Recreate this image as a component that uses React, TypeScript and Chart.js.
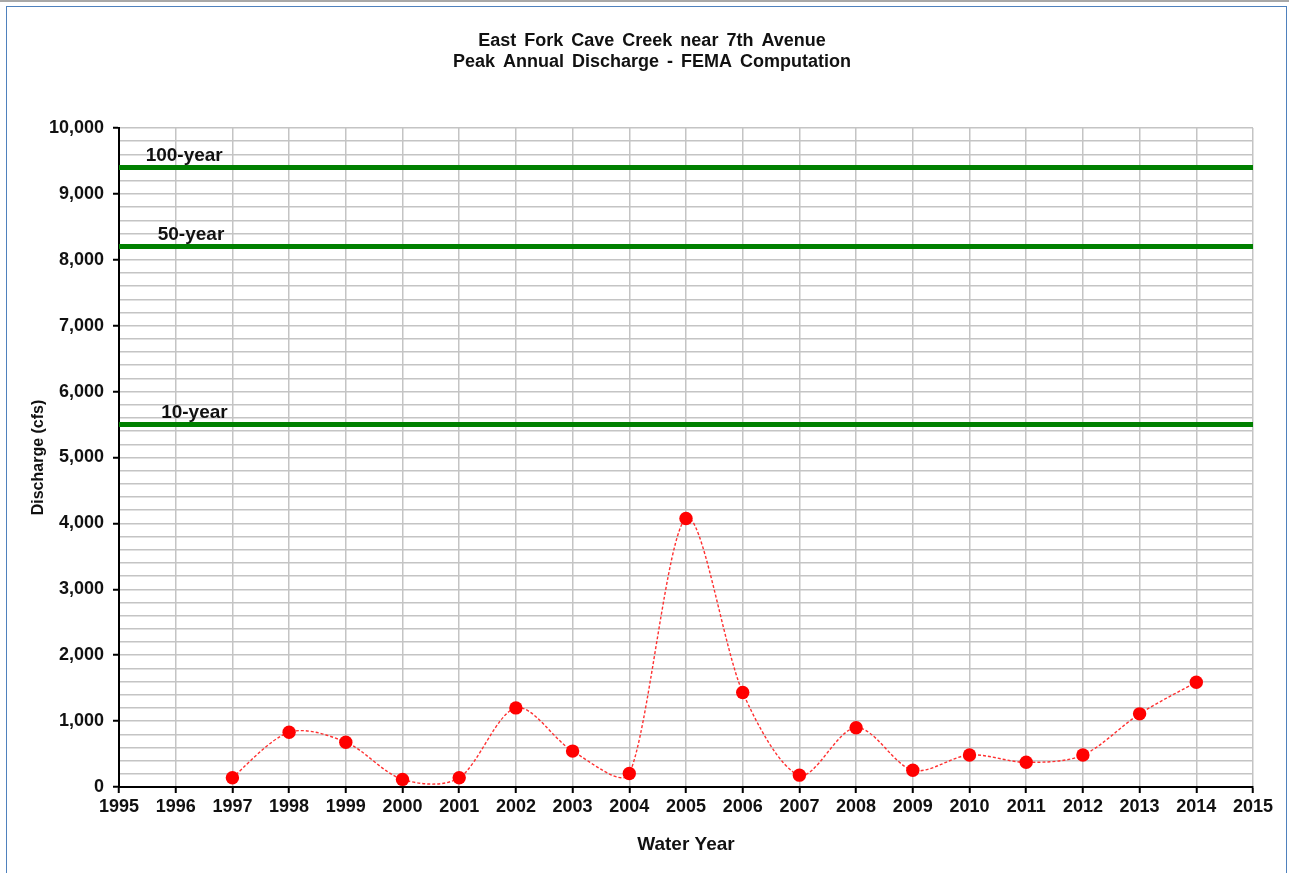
import React, { useEffect, useRef } from "react";
import { Chart, registerables } from "chart.js";

Chart.register(...registerables);

const titleLines = ["East Fork Cave Creek near 7th Avenue", "Peak Annual Discharge - FEMA Computation"];
const years = [1997, 1998, 1999, 2000, 2001, 2002, 2003, 2004, 2005, 2006, 2007, 2008, 2009, 2010, 2011, 2012, 2013, 2014];
const discharge = [140, 830, 680, 115, 140, 1200, 545, 205, 4075, 1435, 180, 900, 255, 485, 375, 485, 1110, 1590];
const returnLabels = ["100-year", "50-year", "10-year"];
const returnFlows = [9400, 8200, 5500];
const returnLabelYears = [1996.15, 1996.27, 1996.33];
const xRange = [1995, 2015];
const yRange = [0, 10000];
const xAxisTitle = "Water Year";
const yAxisTitle = "Discharge (cfs)";

const FONT = "Arial, 'Liberation Sans', sans-serif";

// Excel-like smoothing of the discharge series (Catmull-Rom tangent, damped on short sides)
const smoothPlugin = {
  id: "excelSmooth",
  beforeDatasetDraw(chart: any, args: any) {
    if (args.index !== 0) return;
    const line = args.meta.dataset;
    if (line && line.updateControlPoints) line.updateControlPoints(chart.chartArea, "x");
    const pts = args.meta.data;
    for (let i = 0; i < pts.length; i++) {
      const p = pts[i];
      const prev = pts[i - 1] || p;
      const next = pts[i + 1] || p;
      const d01 = Math.hypot(p.x - prev.x, p.y - prev.y);
      const d12 = Math.hypot(next.x - p.x, next.y - p.y);
      const sum = d01 + d12 || 1;
      const sb = Math.min(1, (2 * d01) / sum);
      const sa = Math.min(1, (2 * d12) / sum);
      const tx = (next.x - prev.x) / 6;
      const ty = (next.y - prev.y) / 6;
      p.cp1x = p.x - tx * sb;
      p.cp1y = p.y - ty * sb;
      p.cp2x = p.x + tx * sa;
      p.cp2y = p.y + ty * sa;
    }
  },
};

const overlayPlugin = {
  id: "overlay",
  afterDatasetsDraw(chart: any) {
    const ctx = chart.ctx;
    const xs = chart.scales.x;
    const ys = chart.scales.y;
    ctx.save();
    ctx.fillStyle = "#111";
    ctx.font = `bold 19px ${FONT}`;
    ctx.textAlign = "center";
    ctx.textBaseline = "alphabetic";
    returnLabels.forEach((lab, i) => {
      ctx.fillText(lab, xs.getPixelForValue(returnLabelYears[i]), ys.getPixelForValue(returnFlows[i]) - 7);
    });
    ctx.font = `bold 18px ${FONT}`;
    ctx.textBaseline = "middle";
    try {
      (ctx as any).wordSpacing = "3px";
    } catch (e) {}
    titleLines.forEach((t, i) => {
      ctx.fillText(t, 652, 41 + i * 21);
    });
    ctx.restore();
  },
};

export default function App() {
  const ref = useRef<HTMLCanvasElement>(null);
  useEffect(() => {
    document.body.style.margin = "0";
    const greenSets = returnFlows.map((f, i) => ({
      label: returnLabels[i],
      data: [
        { x: xRange[0], y: f },
        { x: xRange[1], y: f },
      ],
      borderColor: "#008000",
      borderWidth: 5,
      pointRadius: 0,
      tension: 0,
      order: 2,
    }));
    const chart = new Chart(ref.current as HTMLCanvasElement, {
      type: "line",
      data: {
        datasets: [
          {
            label: "Peak discharge",
            data: years.map((y, i) => ({ x: y, y: discharge[i] })),
            borderColor: "#ff3030",
            borderWidth: 1.4,
            borderDash: [3, 2],
            backgroundColor: "#ff0000",
            pointBackgroundColor: "#ff0000",
            pointBorderWidth: 0,
            pointRadius: 6.7,
            tension: 0.4,
            order: 1,
          },
          ...greenSets,
        ] as any,
      },
      options: {
        animation: false,
        responsive: false,
        layout: { padding: { top: 128, right: 36, left: 0, bottom: 0 } },
        plugins: { legend: { display: false }, title: { display: false }, tooltip: { enabled: false } },
        scales: {
          x: {
            type: "linear",
            min: xRange[0],
            max: xRange[1],
            afterFit: (s: any) => {
              s.height = 86;
            },
            ticks: {
              stepSize: 1,
              autoSkip: false,
              maxRotation: 0,
              padding: 3,
              color: "#111",
              font: { family: FONT, size: 18, weight: "bold" },
              callback: (v: any) => String(v),
            },
            grid: { color: "#c4c4c4", lineWidth: 1.5, tickColor: "#000", tickLength: 6, tickWidth: 2 },
            border: { color: "#000", width: 2 },
            title: {
              display: true,
              text: xAxisTitle,
              color: "#111",
              font: { family: FONT, size: 19, weight: "bold" },
              padding: { top: 0, bottom: 17 },
            },
          },
          y: {
            min: yRange[0],
            max: yRange[1],
            afterFit: (s: any) => {
              s.width = 119;
            },
            ticks: {
              stepSize: 200,
              autoSkip: false,
              padding: 9,
              color: "#111",
              font: { family: FONT, size: 18, weight: "bold" },
              callback: (v: any) => (Number(v) % 1000 === 0 ? Number(v).toLocaleString("en-US") : ""),
            },
            grid: {
              color: "#c4c4c4",
              lineWidth: 1.5,
              tickLength: 6,
              tickWidth: 2,
              tickColor: (c: any) => (c.tick && c.tick.value % 1000 === 0 ? "#000" : "rgba(0,0,0,0)"),
            },
            border: { color: "#000", width: 2 },
            title: {
              display: true,
              text: yAxisTitle,
              color: "#111",
              font: { family: FONT, size: 16, weight: "bold" },
              padding: { top: 29, bottom: 0 },
            },
          },
        },
      } as any,
      plugins: [smoothPlugin, overlayPlugin],
    });
    return () => chart.destroy();
  }, []);
  return (
    <div style={{ position: "relative", width: 1289, height: 873, background: "#fff", overflow: "hidden" }}>
      <div style={{ position: "absolute", left: 0, top: 0, width: 1289, height: 2, background: "#a8a8a8" }} />
      <div
        style={{
          position: "absolute",
          left: 6,
          top: 6,
          width: 1281,
          height: 880,
          border: "1.5px solid #4f81bd",
          boxSizing: "border-box",
        }}
      />
      <canvas ref={ref} width={1289} height={873} style={{ position: "absolute", left: 0, top: 0 }} />
    </div>
  );
}
